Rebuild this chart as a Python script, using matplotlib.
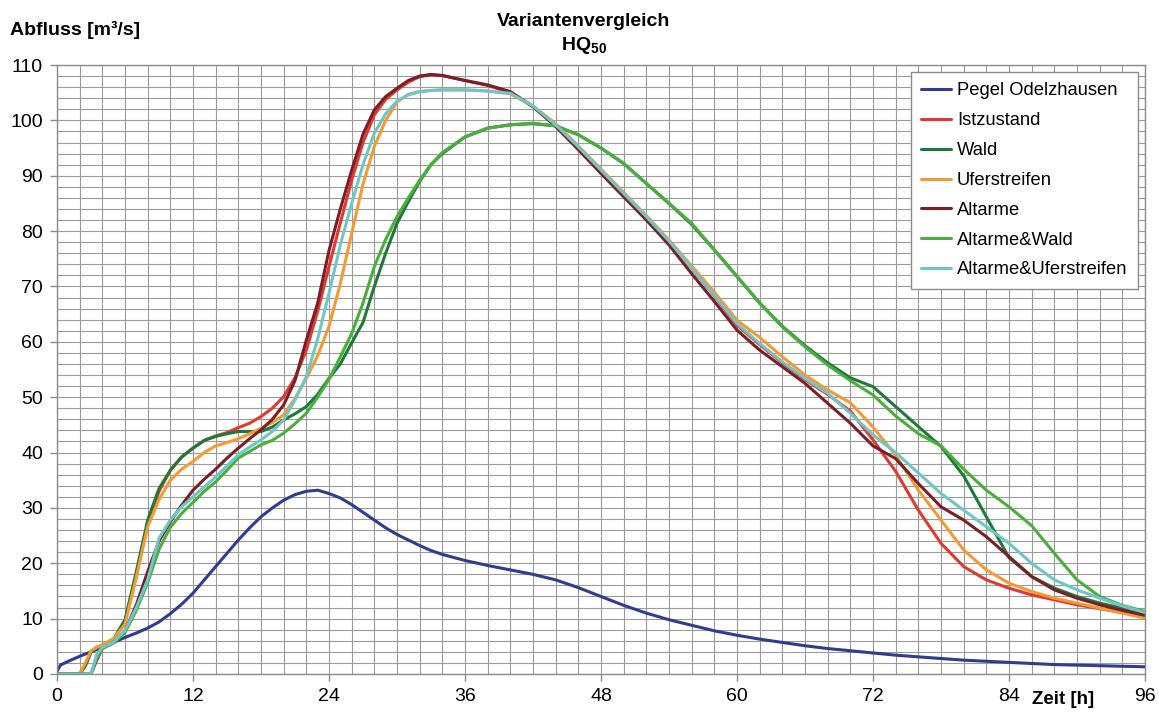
import matplotlib
matplotlib.use('Agg')
import matplotlib.pyplot as plt
from matplotlib.ticker import MultipleLocator

plt.rcParams['font.family'] = ['Liberation Sans', 'DejaVu Sans']
plt.rcParams['mathtext.fontset'] = 'custom'
plt.rcParams['mathtext.rm'] = 'Liberation Sans'
plt.rcParams['mathtext.bf'] = 'Liberation Sans:bold'

# time axis [h]
zeit = [0, 0.3, 1, 2, 2.5, 3, 3.5, 4, 5, 6, 7, 8, 9, 10, 11, 12, 13, 14, 15, 16,
        17, 18, 19, 20, 21, 22, 23, 24, 25, 26, 27, 28, 29, 30, 31, 32, 33, 34,
        36, 38, 40, 42, 44, 46, 48, 50, 52, 54, 56, 58, 60, 62, 64, 66, 68, 70,
        72, 74, 76, 78, 80, 82, 84, 86, 88, 90, 92, 94, 96]

pegel = [0.5, 1.6, 2.3, 3.2, 3.6, 4.0, 4.4, 4.8, 5.7, 6.6, 7.4, 8.3, 9.4, 10.9,
         12.6, 14.6, 17.0, 19.4, 21.8, 24.2, 26.4, 28.4, 30.0, 31.4, 32.4, 33.0,
         33.2, 32.6, 31.8, 30.6, 29.2, 27.8, 26.4, 25.2, 24.2, 23.2, 22.3, 21.6,
         20.5, 19.6, 18.8, 18.0, 17.0, 15.6, 14.0, 12.4, 11.0, 9.8, 8.8, 7.8,
         7.0, 6.3, 5.7, 5.1, 4.6, 4.2, 3.8, 3.4, 3.1, 2.8, 2.5, 2.3, 2.1, 1.9,
         1.7, 1.6, 1.5, 1.4, 1.3]

istzustand = [0, 0, 0, 0, 1.5, 4.0, 4.8, 5.2, 6.3, 9.5, 18.0, 27.0, 33.0, 36.8,
              39.2, 40.8, 42.2, 43.0, 43.6, 44.5, 45.3, 46.5, 48.0, 50.1, 53.5,
              58.5, 65.5, 73.6, 81.5, 89.2, 96.0, 101.0, 103.8, 105.5, 106.9,
              107.9, 108.2, 108.1, 107.2, 106.3, 105.0, 102.5, 99.0, 95.0, 90.8,
              86.6, 82.4, 78.0, 73.3, 68.3, 63.0, 59.5, 56.2, 53.2, 50.5, 47.5,
              42.3, 36.6, 29.6, 23.6, 19.4, 17.0, 15.5, 14.3, 13.4, 12.5, 11.8,
              11.1, 10.3]

wald = [0, 0, 0, 0, 1.5, 4.0, 4.8, 5.2, 6.3, 9.8, 18.5, 27.8, 33.5, 36.8, 39.2,
        40.8, 42.2, 42.9, 43.4, 43.8, 43.8, 43.8, 44.6, 45.9, 47.0, 48.3, 50.5,
        53.4, 56.0, 59.8, 63.5, 70.0, 76.0, 81.4, 85.3, 89.0, 92.0, 94.0, 97.0,
        98.6, 99.2, 99.4, 99.0, 97.4, 95.0, 92.2, 88.6, 85.0, 81.2, 76.6, 71.8,
        67.0, 62.8, 59.3, 56.2, 53.5, 51.9, 48.3, 44.7, 41.1, 35.8, 28.4, 21.0,
        17.6, 15.5, 14.0, 12.8, 11.9, 11.0]

uferstreifen = [0, 0, 0, 0, 2.0, 4.2, 4.8, 5.3, 6.4, 9.0, 17.5, 26.6, 31.5,
                35.0, 37.0, 38.4, 40.0, 41.2, 41.8, 42.5, 43.4, 44.4, 45.4, 46.8,
                49.8, 53.4, 57.5, 62.8, 70.5, 79.6, 88.5, 95.3, 100.0, 103.3,
                104.7, 105.2, 105.4, 105.5, 105.5, 105.3, 104.8, 102.6, 99.4,
                95.4, 91.2, 87.0, 82.8, 78.4, 73.7, 69.0, 63.9, 60.8, 57.3, 54.0,
                51.3, 49.0, 44.6, 39.5, 33.2, 27.8, 22.4, 18.8, 16.4, 14.9, 13.7,
                12.8, 11.9, 11.0, 10.1]

altarme = [0, 0, 0, 0, 0, 0, 2.5, 4.6, 5.8, 7.8, 12.5, 18.5, 24.0, 27.5, 30.5,
           33.2, 35.2, 37.0, 39.0, 40.8, 42.5, 44.1, 46.0, 48.6, 53.0, 60.3,
           67.0, 76.5, 84.0, 91.0, 97.5, 101.9, 104.3, 105.8, 107.2, 108.0,
           108.3, 108.1, 107.2, 106.4, 105.2, 102.5, 98.9, 94.7, 90.4, 86.2,
           82.0, 77.5, 72.3, 67.3, 62.1, 58.5, 55.5, 52.5, 48.9, 45.3, 41.2,
           38.9, 34.4, 30.2, 27.8, 24.8, 21.2, 17.6, 15.2, 13.7, 12.5, 11.5, 10.6]

altarme_wald = [0, 0, 0, 0, 0, 0, 2.8, 4.6, 5.6, 7.5, 11.5, 16.5, 22.5, 26.5,
                29.0, 31.0, 33.0, 34.7, 36.8, 39.0, 40.2, 41.4, 42.2, 43.5, 45.2,
                47.1, 50.0, 53.2, 57.3, 61.5, 67.0, 73.6, 78.5, 82.6, 86.0, 89.2,
                92.0, 94.2, 97.0, 98.6, 99.2, 99.5, 99.0, 97.4, 95.0, 92.2, 88.6,
                85.0, 81.4, 76.6, 71.8, 67.0, 62.7, 59.1, 55.8, 53.0, 50.4, 46.6,
                43.4, 41.2, 37.0, 33.2, 30.2, 26.8, 21.8, 17.0, 14.0, 12.4, 11.3]

altarme_ufer = [0, 0, 0, 0, 0, 0, 3.5, 4.8, 5.8, 7.9, 12.0, 17.0, 24.5, 27.8,
                30.2, 32.0, 33.8, 35.6, 37.6, 39.6, 41.0, 42.3, 43.8, 45.9, 49.5,
                53.7, 60.5, 68.8, 77.5, 85.0, 92.0, 97.7, 101.2, 103.5, 104.6,
                105.2, 105.4, 105.5, 105.5, 105.3, 104.9, 102.6, 99.2, 95.2, 91.0,
                86.8, 82.6, 78.2, 73.3, 68.4, 63.3, 59.7, 56.4, 53.4, 50.7, 47.1,
                43.2, 40.0, 36.3, 32.6, 29.6, 26.6, 23.6, 20.0, 17.0, 15.2, 13.7,
                12.3, 11.1]

series = [
    ('Pegel Odelzhausen', pegel, '#2e3d8f'),
    ('Istzustand', istzustand, '#e2382f'),
    ('Wald', wald, '#1e7a3a'),
    ('Uferstreifen', uferstreifen, '#f39a35'),
    ('Altarme', altarme, '#7b1f26'),
    ('Altarme&Wald', altarme_wald, '#4aae3b'),
    ('Altarme&Uferstreifen', altarme_ufer, '#6ec6c9'),
]

fig = plt.figure(figsize=(11.59, 7.13), dpi=100)
ax = fig.add_axes([57 / 1159, 39 / 713, 1088 / 1159, 609 / 713])

for name, values, color in series:
    ax.plot(zeit, values, color=color, lw=2.2, label=name,
            solid_joinstyle='round', solid_capstyle='round')

ax.set_xlim(0, 96)
ax.set_ylim(0, 110)
ax.xaxis.set_major_locator(MultipleLocator(12))
ax.xaxis.set_minor_locator(MultipleLocator(2))
ax.yaxis.set_major_locator(MultipleLocator(10))
ax.yaxis.set_minor_locator(MultipleLocator(2))
ax.grid(which='both', color='#9c9c9c', lw=0.8)
ax.set_axisbelow(True)
for sp in ax.spines.values():
    sp.set_color('#8c8c8c')
    sp.set_linewidth(1.0)

ax.tick_params(which='major', length=5, width=1, color='#8c8c8c',
               labelsize=14, pad=5, direction='out')
ax.tick_params(which='minor', length=0)
xticks = list(range(0, 97, 12))
ax.set_xticks(xticks)
ax.set_xticklabels([str(t) for t in xticks])

ax.text(88.8, -4.6, 'Zeit [h]', fontsize=13.5, fontweight='bold',
        ha='center', va='center')
fig.text(10 / 1159, 1 - 30 / 713, 'Abfluss [m³/s]', fontsize=14,
         fontweight='bold', ha='left', va='center')
fig.text(584 / 1159, 1 - 21 / 713, 'Variantenvergleich', fontsize=14,
         fontweight='bold', ha='center', va='center')
fig.text(584 / 1159, 1 - 46 / 713, r'$\mathbf{HQ_{50}}$', fontsize=14,
         ha='center', va='center')

leg = ax.legend(loc='upper right', fontsize=13.2, handlelength=1.6,
                handletextpad=0.35, labelspacing=0.7, borderpad=0.55,
                borderaxespad=0.4, fancybox=False, framealpha=1,
                edgecolor='#8c8c8c')
leg.get_frame().set_linewidth(1.0)

fig.savefig('out.png', dpi=100)
